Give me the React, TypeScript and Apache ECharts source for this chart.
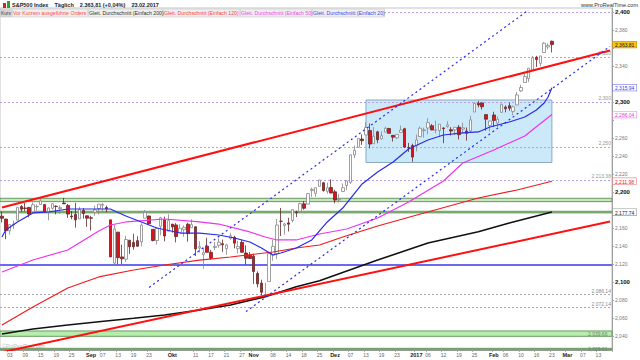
import React, { useEffect, useRef } from "react";
import * as echarts from "echarts";

const FONT = "'Liberation Sans', Arial, sans-serif";

// [date, open, high, low, close]
const ohlc: [string, number, number, number, number][] = [
  ["2016-08-01", 2173.15, 2178.29, 2166.21, 2170.84],
  ["2016-08-02", 2169.94, 2170.2, 2147.58, 2157.03],
  ["2016-08-03", 2156.81, 2163.79, 2152.56, 2163.79],
  ["2016-08-04", 2163.51, 2168.19, 2159.07, 2164.25],
  ["2016-08-05", 2168.79, 2182.87, 2168.79, 2182.87],
  ["2016-08-08", 2183.76, 2185.44, 2177.85, 2180.89],
  ["2016-08-09", 2182.24, 2187.66, 2178.61, 2181.74],
  ["2016-08-10", 2182.81, 2183.41, 2172.0, 2175.49],
  ["2016-08-11", 2177.97, 2188.45, 2177.97, 2185.79],
  ["2016-08-12", 2183.74, 2186.28, 2179.42, 2184.05],
  ["2016-08-15", 2186.08, 2193.81, 2186.08, 2190.15],
  ["2016-08-16", 2186.24, 2186.24, 2178.14, 2178.15],
  ["2016-08-17", 2177.84, 2183.08, 2168.5, 2182.22],
  ["2016-08-18", 2181.9, 2187.03, 2180.46, 2187.02],
  ["2016-08-19", 2184.24, 2185.0, 2175.13, 2183.87],
  ["2016-08-22", 2181.58, 2185.15, 2175.96, 2182.64],
  ["2016-08-23", 2187.81, 2193.42, 2186.8, 2186.9],
  ["2016-08-24", 2185.09, 2186.66, 2171.25, 2175.44],
  ["2016-08-25", 2173.29, 2179.0, 2169.74, 2172.47],
  ["2016-08-26", 2175.1, 2187.94, 2160.39, 2169.04],
  ["2016-08-29", 2170.19, 2183.48, 2170.19, 2180.38],
  ["2016-08-30", 2179.45, 2182.27, 2170.41, 2176.12],
  ["2016-08-31", 2173.56, 2173.79, 2161.35, 2170.95],
  ["2016-09-01", 2171.33, 2173.56, 2157.09, 2170.86],
  ["2016-09-02", 2177.49, 2184.87, 2173.59, 2179.98],
  ["2016-09-06", 2181.61, 2186.57, 2175.1, 2186.48],
  ["2016-09-07", 2185.17, 2187.87, 2179.07, 2186.16],
  ["2016-09-08", 2182.76, 2184.94, 2177.49, 2181.3],
  ["2016-09-09", 2169.08, 2169.08, 2127.81, 2127.81],
  ["2016-09-12", 2120.86, 2163.3, 2119.12, 2159.04],
  ["2016-09-13", 2155.4, 2155.4, 2119.86, 2127.02],
  ["2016-09-14", 2127.86, 2141.33, 2119.9, 2125.77],
  ["2016-09-15", 2125.36, 2151.31, 2122.36, 2147.26],
  ["2016-09-16", 2146.48, 2146.48, 2131.2, 2139.16],
  ["2016-09-19", 2143.99, 2153.61, 2135.91, 2139.12],
  ["2016-09-20", 2145.94, 2150.8, 2139.17, 2139.76],
  ["2016-09-21", 2144.58, 2165.11, 2139.57, 2163.12],
  ["2016-09-22", 2170.94, 2179.99, 2170.94, 2177.18],
  ["2016-09-23", 2173.29, 2173.75, 2163.97, 2164.69],
  ["2016-09-26", 2158.54, 2158.54, 2145.04, 2146.1],
  ["2016-09-27", 2146.04, 2161.13, 2141.55, 2159.93],
  ["2016-09-28", 2161.85, 2172.4, 2151.79, 2171.37],
  ["2016-09-29", 2168.9, 2172.67, 2145.2, 2151.13],
  ["2016-09-30", 2156.51, 2175.3, 2156.51, 2168.27],
  ["2016-10-03", 2164.33, 2164.33, 2154.77, 2161.2],
  ["2016-10-04", 2163.37, 2165.46, 2144.01, 2150.49],
  ["2016-10-05", 2155.15, 2163.95, 2155.15, 2159.73],
  ["2016-10-06", 2158.22, 2162.93, 2150.28, 2160.77],
  ["2016-10-07", 2164.19, 2165.86, 2144.85, 2153.74],
  ["2016-10-10", 2160.39, 2169.6, 2160.39, 2163.66],
  ["2016-10-11", 2161.35, 2161.56, 2128.84, 2136.73],
  ["2016-10-12", 2137.67, 2145.36, 2132.77, 2139.18],
  ["2016-10-13", 2130.26, 2138.19, 2114.72, 2132.55],
  ["2016-10-14", 2139.68, 2149.19, 2132.98, 2132.98],
  ["2016-10-17", 2132.95, 2135.61, 2124.43, 2126.5],
  ["2016-10-18", 2138.31, 2144.38, 2135.49, 2139.6],
  ["2016-10-19", 2140.81, 2148.44, 2138.15, 2144.29],
  ["2016-10-20", 2142.51, 2147.18, 2133.44, 2141.34],
  ["2016-10-21", 2136.97, 2142.63, 2130.09, 2141.16],
  ["2016-10-24", 2148.5, 2154.79, 2146.91, 2151.33],
  ["2016-10-25", 2149.72, 2151.44, 2137.46, 2143.16],
  ["2016-10-26", 2136.97, 2145.73, 2131.59, 2139.43],
  ["2016-10-27", 2144.06, 2147.13, 2132.52, 2133.04],
  ["2016-10-28", 2132.23, 2140.72, 2119.36, 2126.41],
  ["2016-10-31", 2129.78, 2133.25, 2125.53, 2126.15],
  ["2016-11-01", 2128.68, 2131.45, 2097.85, 2111.72],
  ["2016-11-02", 2109.43, 2111.76, 2094.0, 2097.94],
  ["2016-11-03", 2098.8, 2102.56, 2085.23, 2088.66],
  ["2016-11-04", 2083.79, 2099.07, 2083.79, 2085.18],
  ["2016-11-07", 2100.59, 2132.0, 2100.59, 2131.52],
  ["2016-11-08", 2129.92, 2146.87, 2123.56, 2139.56],
  ["2016-11-09", 2131.56, 2170.1, 2125.35, 2163.26],
  ["2016-11-10", 2167.49, 2182.3, 2151.17, 2167.48],
  ["2016-11-11", 2162.71, 2165.92, 2152.49, 2164.45],
  ["2016-11-14", 2165.64, 2171.36, 2156.08, 2164.2],
  ["2016-11-15", 2168.29, 2180.84, 2166.38, 2180.39],
  ["2016-11-16", 2177.53, 2179.22, 2172.2, 2176.94],
  ["2016-11-17", 2178.61, 2188.06, 2176.65, 2187.12],
  ["2016-11-18", 2186.85, 2189.89, 2180.38, 2181.9],
  ["2016-11-21", 2186.43, 2198.7, 2186.43, 2198.18],
  ["2016-11-22", 2201.56, 2204.8, 2194.51, 2202.94],
  ["2016-11-23", 2198.55, 2204.72, 2194.51, 2204.72],
  ["2016-11-25", 2206.27, 2213.35, 2206.27, 2213.35],
  ["2016-11-28", 2210.21, 2211.14, 2200.36, 2201.72],
  ["2016-11-29", 2200.76, 2210.46, 2198.15, 2204.66],
  ["2016-11-30", 2204.97, 2214.1, 2198.81, 2198.81],
  ["2016-12-01", 2200.17, 2202.6, 2187.44, 2191.08],
  ["2016-12-02", 2191.12, 2197.95, 2188.37, 2191.95],
  ["2016-12-05", 2200.65, 2209.42, 2199.97, 2204.71],
  ["2016-12-06", 2207.26, 2212.78, 2202.21, 2212.23],
  ["2016-12-07", 2210.72, 2241.63, 2208.93, 2241.35],
  ["2016-12-08", 2241.13, 2251.69, 2237.57, 2246.19],
  ["2016-12-09", 2249.73, 2259.8, 2249.23, 2259.53],
  ["2016-12-12", 2258.83, 2264.03, 2252.37, 2256.96],
  ["2016-12-13", 2263.32, 2277.53, 2263.32, 2271.72],
  ["2016-12-14", 2268.35, 2276.2, 2248.44, 2253.28],
  ["2016-12-15", 2253.77, 2272.12, 2253.77, 2262.03],
  ["2016-12-16", 2266.81, 2268.05, 2254.24, 2258.07],
  ["2016-12-19", 2259.24, 2267.47, 2258.21, 2262.53],
  ["2016-12-20", 2266.5, 2272.56, 2266.14, 2270.76],
  ["2016-12-21", 2270.54, 2271.23, 2265.15, 2265.18],
  ["2016-12-22", 2262.93, 2263.18, 2256.08, 2260.96],
  ["2016-12-23", 2260.25, 2263.79, 2258.84, 2263.79],
  ["2016-12-27", 2266.23, 2273.82, 2266.15, 2268.88],
  ["2016-12-28", 2270.23, 2271.31, 2249.11, 2249.92],
  ["2016-12-29", 2249.5, 2254.51, 2244.56, 2249.26],
  ["2016-12-30", 2251.61, 2253.58, 2233.62, 2238.83],
  ["2017-01-03", 2251.57, 2263.88, 2245.13, 2257.83],
  ["2017-01-04", 2261.6, 2272.82, 2261.6, 2270.75],
  ["2017-01-05", 2268.18, 2271.5, 2260.45, 2269.0],
  ["2017-01-06", 2271.14, 2282.1, 2264.06, 2276.98],
  ["2017-01-09", 2273.59, 2275.49, 2268.9, 2268.9],
  ["2017-01-10", 2268.6, 2279.27, 2265.27, 2268.9],
  ["2017-01-11", 2268.35, 2275.32, 2260.83, 2275.32],
  ["2017-01-12", 2271.14, 2271.78, 2254.25, 2270.44],
  ["2017-01-13", 2272.74, 2278.68, 2271.51, 2274.64],
  ["2017-01-17", 2269.14, 2272.08, 2262.81, 2267.89],
  ["2017-01-18", 2269.14, 2272.01, 2263.35, 2271.89],
  ["2017-01-19", 2271.9, 2274.33, 2258.41, 2263.69],
  ["2017-01-20", 2269.96, 2276.96, 2265.01, 2271.31],
  ["2017-01-23", 2267.78, 2271.78, 2257.02, 2265.2],
  ["2017-01-24", 2267.88, 2284.63, 2266.68, 2280.07],
  ["2017-01-25", 2288.88, 2299.55, 2288.88, 2298.37],
  ["2017-01-26", 2298.63, 2300.99, 2294.08, 2296.68],
  ["2017-01-27", 2299.02, 2299.02, 2291.62, 2294.69],
  ["2017-01-30", 2286.01, 2286.01, 2268.04, 2280.9],
  ["2017-01-31", 2274.02, 2279.09, 2267.21, 2278.87],
  ["2017-02-01", 2285.59, 2289.14, 2272.44, 2279.55],
  ["2017-02-02", 2276.69, 2283.97, 2271.65, 2280.85],
  ["2017-02-03", 2288.54, 2298.31, 2287.88, 2297.42],
  ["2017-02-06", 2294.28, 2296.18, 2288.57, 2292.56],
  ["2017-02-07", 2295.87, 2299.4, 2290.16, 2293.08],
  ["2017-02-08", 2289.55, 2295.91, 2285.38, 2294.67],
  ["2017-02-09", 2296.7, 2311.08, 2296.61, 2307.87],
  ["2017-02-10", 2312.27, 2319.23, 2311.1, 2316.1],
  ["2017-02-13", 2321.72, 2331.58, 2321.42, 2328.25],
  ["2017-02-14", 2326.12, 2337.58, 2322.17, 2337.58],
  ["2017-02-15", 2335.58, 2351.3, 2334.81, 2349.25],
  ["2017-02-16", 2349.64, 2351.31, 2338.87, 2347.22],
  ["2017-02-17", 2343.01, 2351.16, 2339.58, 2351.16],
  ["2017-02-21", 2354.91, 2366.71, 2354.91, 2365.38],
  ["2017-02-22", 2361.11, 2365.13, 2358.34, 2362.82],
  ["2017-02-23", 2367.5, 2368.26, 2355.09, 2363.81],
];

const futureDates = [
  "2017-02-24", "2017-02-27", "2017-02-28", "2017-03-01", "2017-03-02", "2017-03-03",
  "2017-03-06", "2017-03-07", "2017-03-08", "2017-03-09", "2017-03-10", "2017-03-13",
  "2017-03-14", "2017-03-15", "2017-03-16",
];

// moving averages
const ma20: [string, number][] = [
  ["2016-08-01", 2150.0], ["2016-08-02", 2157.8], ["2016-08-05", 2166.7], ["2016-08-11", 2176.7],
  ["2016-08-17", 2177.8], ["2016-08-24", 2181.1], ["2016-09-06", 2181.1], ["2016-09-09", 2181.1],
  ["2016-09-15", 2173.3], ["2016-09-27", 2160.0], ["2016-10-05", 2154.4], ["2016-10-12", 2154.4],
  ["2016-10-19", 2152.2], ["2016-10-25", 2148.9], ["2016-10-31", 2144.4], ["2016-11-03", 2137.8],
  ["2016-11-08", 2130.0], ["2016-11-10", 2132.2], ["2016-11-16", 2137.8], ["2016-11-22", 2146.7],
  ["2016-11-29", 2166.7], ["2016-12-05", 2182.2], ["2016-12-12", 2208.9], ["2016-12-16", 2222.2],
  ["2016-12-22", 2233.3], ["2016-12-29", 2247.8], ["2017-01-06", 2257.8], ["2017-01-12", 2263.3],
  ["2017-01-20", 2265.6], ["2017-01-26", 2266.7], ["2017-01-31", 2272.2], ["2017-02-07", 2277.8],
  ["2017-02-13", 2283.3], ["2017-02-16", 2291.1], ["2017-02-21", 2298.9], ["2017-02-22", 2305.6],
  ["2017-02-23", 2315.94],
];
const ma50: [string, number][] = [
  ["2016-08-01", 2111.1], ["2016-08-11", 2124.4], ["2016-08-24", 2135.6], ["2016-09-06", 2156.7],
  ["2016-09-09", 2163.3], ["2016-09-15", 2166.7], ["2016-09-29", 2170.0], ["2016-10-12", 2166.7],
  ["2016-10-19", 2164.4], ["2016-10-31", 2155.6], ["2016-11-04", 2150.0], ["2016-11-09", 2146.7],
  ["2016-11-16", 2146.7], ["2016-11-25", 2153.3], ["2016-12-06", 2158.9], ["2016-12-16", 2171.1],
  ["2016-12-29", 2188.9], ["2017-01-12", 2212.2], ["2017-01-20", 2232.2], ["2017-02-01", 2246.7],
  ["2017-02-13", 2262.2], ["2017-02-23", 2286.04],
];
const ma120: [string, number][] = [
  ["2016-08-01", 2052.2], ["2016-08-11", 2072.2], ["2016-08-24", 2093.3], ["2016-09-06", 2105.6],
  ["2016-09-19", 2113.3], ["2016-09-29", 2118.9], ["2016-10-12", 2124.4], ["2016-10-24", 2127.8],
  ["2016-11-08", 2133.3], ["2016-11-16", 2137.8], ["2016-11-25", 2141.1], ["2016-12-05", 2150.0],
  ["2016-12-16", 2162.2], ["2017-01-05", 2176.7], ["2017-01-26", 2193.3], ["2017-02-09", 2202.2],
  ["2017-02-23", 2211.98],
];
const ma200: [string, number][] = [
  ["2016-08-01", 2042.2], ["2016-08-11", 2047.8], ["2016-08-24", 2052.2], ["2016-09-06", 2055.9],
  ["2016-09-19", 2059.7], ["2016-09-29", 2063.3], ["2016-10-12", 2068.9], ["2016-10-24", 2074.4],
  ["2016-11-04", 2083.7], ["2016-11-16", 2094.8], ["2016-11-25", 2101.4], ["2016-12-16", 2124.4],
  ["2017-01-06", 2143.3], ["2017-01-26", 2155.9], ["2017-02-07", 2165.6], ["2017-02-23", 2177.74],
];

// drawn trend lines and channel
const trendUpperRed: [string, number][] = [["2016-08-01", 2182.8], ["2017-03-16", 2357.2]];
const trendLowerRed: [string, number][] = [["2016-08-01", 2022.0], ["2017-03-16", 2167.2]];
const channelUpper: [string, number][] = [["2016-09-23", 2094.0], ["2017-02-14", 2402.3]];
const channelLower: [string, number][] = [["2016-10-28", 2067.1], ["2017-03-16", 2361.8]];

// horizontal levels
const lilacLevels = [2400, 2350, 2300, 2250, 2213.38];
const lilacLabels = ["", "2,350", "2,300", "2,250", "2,213.38"];
const grayLevels = [2086.14, 2072.14];
const grayLabels = ["2,086.14", "2,072.14"];
const blueLevel = 2119;
const greenBands: [number, number][] = [[2189.3, 2193.0], [2176.8, 2178.6], [2039.66, 2045.6], [2024.8, 2026.3]];
const greenBandLabels = ["", "", "2,039.66", "2,025.61"];

// rectangle zone
const zoneDates = ["2016-12-13", "2017-02-23"];
const zoneValues = [2232.8, 2302.2];

// x tick labels
const xTickDates = [
  "2016-08-03", "2016-08-09", "2016-08-15", "2016-08-19", "2016-08-25", "2016-09-01", "2016-09-07",
  "2016-09-13", "2016-09-19", "2016-09-23", "2016-10-03", "2016-10-11", "2016-10-17", "2016-10-21",
  "2016-10-27", "2016-11-01", "2016-11-08", "2016-11-14", "2016-11-18", "2016-11-25", "2016-12-01",
  "2016-12-07", "2016-12-13", "2016-12-19", "2016-12-23", "2017-01-03", "2017-01-06", "2017-01-12",
  "2017-01-19", "2017-01-25", "2017-02-01", "2017-02-06", "2017-02-10", "2017-02-16", "2017-02-23",
  "2017-03-01", "2017-03-07", "2017-03-13",
];
const xTickLabels = [
  "03", "09", "15", "19", "25", "Sep", "07", "13", "19", "23", "Okt", "11", "17", "21", "27", "Nov",
  "08", "14", "18", "25", "Dez", "07", "13", "19", "23", "2017", "06", "12", "19", "25", "Feb", "06",
  "10", "16", "23", "Mar", "07", "13",
];
const boldTicks = ["Sep", "Okt", "Nov", "Dez", "2017", "Feb", "Mar"];

const Y_MIN = 2024.44;
const Y_MAX = 2404.44;

function fmt(v: number, dec: number): string {
  const s = v.toFixed(dec);
  const [i, d] = s.split(".");
  const withComma = i.replace(/\B(?=(\d{3})+(?!\d))/g, ",");
  return d ? withComma + "." + d : withComma;
}

export default function App() {
  const ref = useRef<HTMLDivElement>(null);

  useEffect(() => {
    if (!ref.current) return;
    const chart = echarts.init(ref.current, undefined, { renderer: "svg" });

    const allDates = [...ohlc.map((r) => r[0]), ...futureDates];
    const tickMap: Record<string, string> = {};
    xTickDates.forEach((d, i) => (tickMap[d] = xTickLabels[i]));
    const candleData = ohlc.map((r) => [r[1], r[4], r[3], r[2]]);

    const lastClose = ohlc[ohlc.length - 1][4];
    const boxes = [
      { v: lastClose, k: "cur" },
      { v: ma20[ma20.length - 1][1], k: "m20" },
      { v: ma50[ma50.length - 1][1], k: "m50" },
      { v: ma120[ma120.length - 1][1], k: "m120" },
      { v: ma200[ma200.length - 1][1], k: "m200" },
    ];
    const boxBase = { fontSize: 5, fontFamily: FONT, padding: [1, 2, 0, 2], lineHeight: 7, borderWidth: 0.6 };

    const markLines: any[] = [];
    lilacLevels.forEach((v, i) =>
      markLines.push({
        yAxis: v,
        lineStyle: { color: "#b7a0e6", type: [2, 2], width: 1 },
        label: { show: !!lilacLabels[i], formatter: lilacLabels[i], color: "#8f9a8f" },
      })
    );
    grayLevels.forEach((v, i) =>
      markLines.push({
        yAxis: v,
        lineStyle: { color: "#a8a8a8", type: [2, 2], width: 1 },
        label: { show: true, formatter: grayLabels[i], color: "#8a8a8a" },
      })
    );
    markLines.push({
      yAxis: blueLevel,
      lineStyle: { color: "#6a6af0", type: "solid", width: 2 },
      label: { show: false },
    });

    const bandAreas: any[] = greenBands.map((b, i) => [
      {
        yAxis: b[0],
        itemStyle: {
          color: i === 1 || i === 3 ? "#8fbf86" : i === 2 ? "#b5eeaa" : "#c9e6c1",
          borderColor: "#6b9a63",
          borderWidth: 1,
        },
        label: {
          show: !!greenBandLabels[i],
          formatter: greenBandLabels[i],
          position: i === 2 ? "insideRight" : "insideTopRight",
          color: "#6d8a6d",
          fontSize: 5,
          fontFamily: FONT,
          offset: i === 3 ? [0, -6] : [0, 0],
        },
      },
      { yAxis: b[1] },
    ]);
    bandAreas.push([
      {
        xAxis: zoneDates[0],
        yAxis: zoneValues[1],
        itemStyle: { color: "#cbe9f9", borderColor: "#86aac2", borderWidth: 1 },
      },
      { xAxis: zoneDates[1], yAxis: zoneValues[0] },
    ]);

    const lineSeries = (name: string, data: any, color: string, width: number, type: any = "solid", z = 4) => ({
      name,
      type: "line",
      data,
      symbol: "none",
      showSymbol: false,
      silent: true,
      z,
      lineStyle: { color, width, type },
    });

    const option: any = {
      animation: false,
      backgroundColor: "#ffffff",
      textStyle: { fontFamily: FONT },
      grid: { left: 0, right: 24, top: 8, bottom: 10, show: true, borderColor: "#c4c4c4", borderWidth: 1 },
      xAxis: {
        type: "category",
        data: allDates,
        boundaryGap: true,
        axisLine: { lineStyle: { color: "#a0a0a0" } },
        axisTick: {
          show: true,
          interval: (_i: number, v: string) => v in tickMap,
          length: 2,
          lineStyle: { color: "#b0b0b0" },
        },
        axisLabel: {
          interval: (_i: number, v: string) => v in tickMap,
          margin: 2,
          fontSize: 5,
          color: "#666",
          fontFamily: FONT,
          formatter: (v: string) => {
            const t = tickMap[v] || "";
            return boldTicks.includes(t) ? `{m|${t}}` : t;
          },
          rich: { m: { fontWeight: "bold", fontSize: 5.5, color: "#222", fontFamily: FONT } },
        },
        splitLine: { show: false },
      },
      yAxis: [
        {
          type: "value",
          position: "right",
          min: Y_MIN,
          max: Y_MAX,
          splitNumber: 19,
          axisLine: { show: true, lineStyle: { color: "#a0a0a0" } },
          axisTick: { show: true, length: 2, lineStyle: { color: "#a0a0a0" } },
          splitLine: { show: false },
          axisLabel: {
            margin: 3,
            showMinLabel: false,
            showMaxLabel: false,
            formatter: (v: number) => {
              const r = Math.round(v / 20) * 20;
              if (Math.abs(v - r) > 0.01) return "";
              // labels covered by the value boxes
              if (boxes.some((b) => Math.abs(b.v - r) < 7.5)) return "";
              const s = fmt(r, 0);
              return r % 100 === 0 ? `{b|${s}}` : `{n|${s}}`;
            },
            rich: {
              b: { fontWeight: "bold", fontSize: 6, color: "#111", fontFamily: FONT },
              n: { fontSize: 5, color: "#777", fontFamily: FONT },
            },
          },
        },
        {
          type: "value",
          position: "right",
          min: Y_MIN,
          max: Y_MAX,
          axisLine: { show: false },
          axisTick: { show: false },
          splitLine: { show: false },
          axisLabel: {
            customValues: boxes.map((b) => b.v),
            margin: 1,
            showMinLabel: true,
            showMaxLabel: true,
            formatter: (v: number) => {
              let best = boxes[0];
              boxes.forEach((b) => {
                if (Math.abs(b.v - v) < Math.abs(best.v - v)) best = b;
              });
              return `{${best.k}|${fmt(best.v, 2)}}`;
            },
            rich: {
              cur: { ...boxBase, backgroundColor: "#f5c518", color: "#111", borderColor: "#c89a00" },
              m20: { ...boxBase, backgroundColor: "#ffffff", color: "#3a3af0", borderColor: "#7b7bea" },
              m50: { ...boxBase, backgroundColor: "#ffffff", color: "#e040e0", borderColor: "#ee88ee" },
              m120: { ...boxBase, backgroundColor: "#ffffff", color: "#ee2020", borderColor: "#f08080" },
              m200: { ...boxBase, backgroundColor: "#ffffff", color: "#222222", borderColor: "#9a9a9a" },
            },
          },
        },
      ],
      series: [
        {
          name: "zones",
          type: "line",
          data: [],
          z: 1,
          silent: true,
          markArea: { silent: true, z: 1, data: bandAreas },
        },
        {
          name: "Kurs",
          type: "candlestick",
          data: candleData,
          z: 3,
          barWidth: 3,
          silent: true,
          itemStyle: {
            color: "#ffffff",
            color0: "#e3101a",
            borderColor: "#888888",
            borderColor0: "#5e2a2a",
            borderWidth: 0.8,
          },
        },
        {
          name: "levels",
          type: "line",
          data: [],
          z: 2,
          silent: true,
          markLine: {
            silent: true,
            symbol: "none",
            z: 2,
            label: { position: "insideEndTop", fontSize: 5, fontFamily: FONT, distance: 1 },
            data: markLines,
          },
        },
        lineSeries("MA200", ma200, "#111111", 1.6),
        lineSeries("MA120", ma120, "#ee1c1c", 1.2),
        lineSeries("MA50", ma50, "#ee33ee", 1.2),
        lineSeries("MA20", ma20, "#2a2ae8", 1.2),
        lineSeries("trendUpper", trendUpperRed, "#ff0f0f", 2, "solid", 5),
        lineSeries("trendLower", trendLowerRed, "#ff0f0f", 2, "solid", 5),
        lineSeries("chanUpper", channelUpper, "#2a2af0", 1.2, [2, 3], 5),
        lineSeries("chanLower", channelLower, "#2a2af0", 1.2, [2, 3], 5),
      ],
      graphic: [
        { type: "rect", shape: { x: 3, y: 3, width: 3, height: 5 }, style: { fill: "#e02020" } },
        { type: "rect", shape: { x: 7, y: 1, width: 3, height: 7 }, style: { fill: "#22aa22" } },
        {
          type: "text",
          x: 12,
          y: 5,
          style: {
            text: "S&P500 Index    Täglich    2.363,81 (+0,04%)    23.02.2017",
            fontSize: 5.5,
            fontWeight: "bold",
            fontFamily: FONT,
            fill: "#222",
            verticalAlign: "middle",
          },
        },
        {
          type: "text",
          x: 638,
          y: 5,
          style: {
            text: "www.ProRealTime.com",
            fontSize: 5.5,
            fontFamily: FONT,
            fill: "#333",
            align: "right",
            verticalAlign: "middle",
          },
        },
        ...[
          { x: 0, w: 12, t: "Kurs", c: "#444", bg: "#d6d6d6", fs: 4.8 },
          { x: 12, w: 76, t: "Vor Kurzem ausgeführte Orders", c: "#ff4b4b", bg: "#efefef", fs: 5.2 },
          { x: 88, w: 75, t: "Gleit. Durchschnitt (Einfach 200)", c: "#333", bg: "#efefef", fs: 5.2 },
          { x: 163, w: 77, t: "Gleit. Durchschnitt (Einfach 120)", c: "#ff4040", bg: "#efefef", fs: 5.2 },
          { x: 240, w: 72, t: "Gleit. Durchschnitt (Einfach 50)", c: "#ee44ee", bg: "#efefef", fs: 5.2 },
          { x: 312, w: 73, t: "Gleit. Durchschnitt (Einfach 20)", c: "#4444ee", bg: "#efefef", fs: 5.2 },
        ].flatMap((it) => [
          {
            type: "rect",
            z: 100,
            shape: { x: it.x + 0.5, y: 9, width: it.w - 1, height: 8 },
            style: { fill: it.bg, stroke: "#c8c8c8", lineWidth: 0.6 },
          },
          {
            type: "text",
            z: 101,
            x: it.x + 1,
            y: 13.2,
            style: { text: it.t, fontSize: it.fs, fontFamily: FONT, fill: it.c, verticalAlign: "middle" },
          },
        ]),
        {
          type: "text",
          x: 2,
          y: 346,
          style: { text: "©ProRealTime.com", fontSize: 5, fontFamily: FONT, fill: "#c0c0c0", verticalAlign: "middle" },
        },
      ],
    };

    chart.setOption(option);
    return () => chart.dispose();
  }, []);

  return <div ref={ref} style={{ width: 640, height: 360, position: "absolute", left: 0, top: 0 }} />;
}
